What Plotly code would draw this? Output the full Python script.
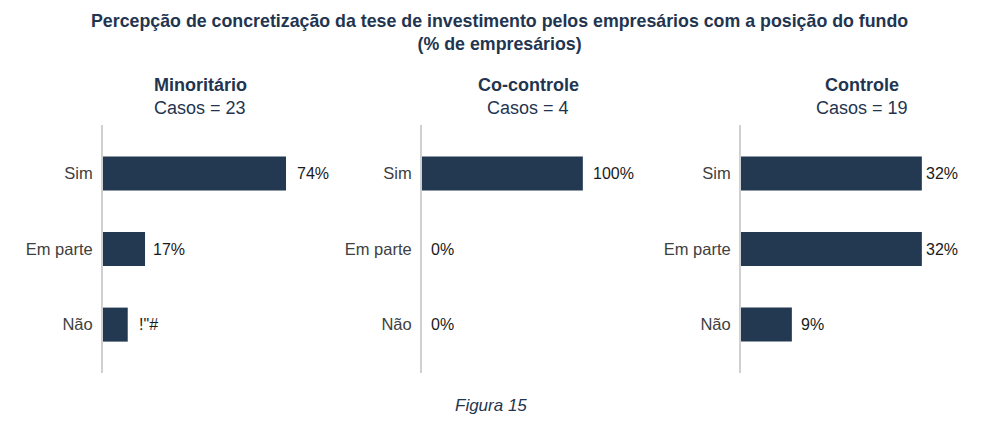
import plotly.graph_objects as go

# ---- data ----
categories = ["Sim", "Em parte", "Não"]
panel_names = ["Minoritário", "Co-controle", "Controle"]
panel_cases = [23, 4, 19]
minoritario_values = [74, 17, 10]
cocontrole_values = [100, 0, 0]
controle_values = [32, 32, 9]
minoritario_labels = ["74%", "17%", '!"#']
cocontrole_labels = ["100%", "0%", "0%"]
controle_labels = ["32%", "32%", "9%"]
title_text = "Percepção de concretização da tese de investimento pelos empresários com a posição do fundo<br>(% de empresários)"
caption_text = "Figura 15"

values = [minoritario_values, cocontrole_values, controle_values]
labels = [minoritario_labels, cocontrole_labels, controle_labels]

# ---- styling ----
W, H = 998, 431
FONT = "Liberation Sans, Arial, sans-serif"
NAVY = "#233851"
TITLE_C = "#1f3550"
axis_px = [103, 422, 741]
dom_w = 230
x_max = [93, 143, 40.7]
title_cx = [200, 528, 862]
label_gap = [[9, 6, 9], [8, 7, 7], [2, 2, 7]]
y_top, y_bot = 125, 373

fig = go.Figure()
for i in range(3):
    xa = "x" if i == 0 else f"x{i+1}"
    ya = "y" if i == 0 else f"y{i+1}"
    fig.add_trace(go.Bar(
        x=values[i], y=categories, orientation="h",
        marker=dict(color=NAVY, line=dict(width=0)),
        width=0.45, xaxis=xa, yaxis=ya, showlegend=False,
        hoverinfo="skip",
    ))
    xkey = "xaxis" if i == 0 else f"xaxis{i+1}"
    ykey = "yaxis" if i == 0 else f"yaxis{i+1}"
    d0 = axis_px[i] / W
    fig.layout[xkey] = dict(
        domain=[d0, (axis_px[i] + dom_w) / W], range=[0, x_max[i]],
        visible=False, anchor=ya, fixedrange=True,
    )
    fig.layout[ykey] = dict(
        domain=[1 - y_bot / H, 1 - y_top / H], anchor=xa,
        type="category", categoryorder="array", categoryarray=categories,
        range=[2.64, -0.64], showline=True, linecolor="#d0d0d0", linewidth=2,
        showgrid=False, zeroline=False, ticks="", ticklabelstandoff=5,
        tickfont=dict(family=FONT, size=16.5, color="#404040"), fixedrange=True,
    )
    for j, cat in enumerate(categories):
        fig.add_annotation(
            x=values[i][j], y=cat, xref=xa, yref=ya, text=labels[i][j],
            showarrow=False, xanchor="left", yanchor="middle",
            xshift=label_gap[i][j],
            font=dict(family=FONT, size=16, color="#1a1a1a"),
        )
    fig.add_annotation(
        x=title_cx[i] / W, y=1 - 85 / H, xref="paper", yref="paper",
        text=f"<b>{panel_names[i]}</b>", showarrow=False,
        xanchor="center", yanchor="middle",
        font=dict(family=FONT, size=18, color=TITLE_C),
    )
    fig.add_annotation(
        x=title_cx[i] / W, y=1 - 108 / H, xref="paper", yref="paper",
        text=f"Casos = {panel_cases[i]}", showarrow=False,
        xanchor="center", yanchor="middle",
        font=dict(family=FONT, size=18, color=TITLE_C),
    )

fig.add_annotation(
    x=499 / W, y=1 - 33 / H, xref="paper", yref="paper",
    text=f"<b>{title_text}</b>", showarrow=False,
    xanchor="center", yanchor="middle", align="center",
    font=dict(family=FONT, size=17.8, color=TITLE_C),
)
fig.add_annotation(
    x=491 / W, y=1 - 405 / H, xref="paper", yref="paper",
    text=f"<i>{caption_text}</i>", showarrow=False,
    xanchor="center", yanchor="middle",
    font=dict(family=FONT, size=17, color=TITLE_C),
)

fig.update_layout(
    width=W, height=H, margin=dict(l=0, r=0, t=0, b=0),
    paper_bgcolor="white", plot_bgcolor="white",
    bargap=0.55,
)
fig.write_html("out.html", config={"displayModeBar": False})
